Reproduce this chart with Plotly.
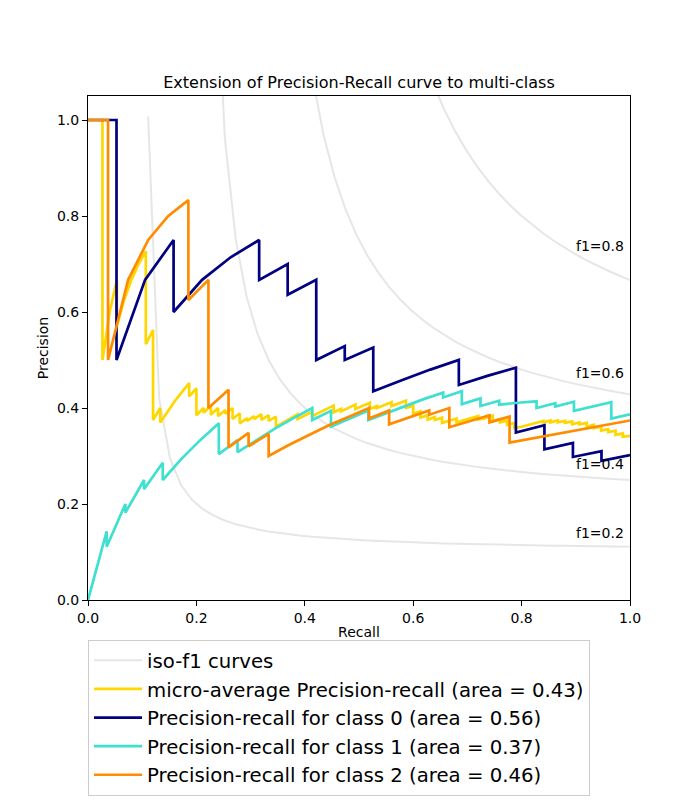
import numpy as np
import plotly.graph_objects as go

# ---- data ----
f_scores = [0.2, 0.4, 0.6, 0.8]

rec_micro = [0, 0.0267, 0.0267, 0.04, 0.0533, 0.0533, 0.0667, 0.08, 0.0933, 0.1067, 0.1067, 0.12, 0.12, 0.1333, 0.1333, 0.1467, 0.16, 0.1733, 0.1867, 0.1867, 0.2, 0.2,
             0.2133, 0.2133, 0.2267, 0.2267, 0.24, 0.24, 0.2533, 0.2533, 0.2667, 0.2667, 0.28, 0.28, 0.2933, 0.2933, 0.3067, 0.3067, 0.32, 0.32, 0.3333, 0.3333, 0.3467, 0.3467,
             0.36, 0.3733, 0.3867, 0.3867, 0.4, 0.4133, 0.4133, 0.4267, 0.44, 0.4533, 0.4533, 0.4667, 0.4667, 0.48, 0.4933, 0.4933, 0.5067, 0.52, 0.52, 0.5333, 0.5333, 0.5467, 0.56, 0.56, 0.5733, 0.5867, 0.5867,
             0.6, 0.6, 0.6133, 0.6133, 0.6267, 0.6267, 0.64, 0.64, 0.6533, 0.6533, 0.6667, 0.68, 0.68, 0.6933, 0.7067, 0.72, 0.72, 0.7333, 0.7467, 0.7467, 0.76, 0.76, 0.7733, 0.7733, 0.7867, 0.7867,
             0.8, 0.8133, 0.8267, 0.84, 0.84, 0.8533, 0.8533, 0.8667, 0.8667, 0.88, 0.88, 0.8933, 0.8933, 0.9067, 0.9067, 0.92, 0.92, 0.9333, 0.9333, 0.9467, 0.9467, 0.96, 0.96, 0.9733, 0.9733, 0.9867, 0.9867, 1.0]
prec_micro = [1.0, 1.0, 0.5, 0.6, 0.667, 0.571, 0.625, 0.667, 0.7, 0.727, 0.533, 0.5625, 0.375, 0.4, 0.37, 0.393, 0.414, 0.433, 0.452, 0.424, 0.441, 0.385,
              0.4, 0.39, 0.405, 0.386, 0.4, 0.383, 0.396, 0.388, 0.4, 0.377, 0.389, 0.368, 0.379, 0.373, 0.383, 0.377, 0.387, 0.375, 0.385, 0.373, 0.382, 0.361,
              0.37, 0.378, 0.387, 0.377, 0.385, 0.392, 0.383, 0.39, 0.398, 0.405, 0.391, 0.398, 0.393, 0.4, 0.407, 0.398, 0.404, 0.411, 0.398, 0.404, 0.4, 0.406, 0.412, 0.404, 0.41, 0.415, 0.4,
              0.405, 0.388, 0.393, 0.38, 0.385, 0.376, 0.381, 0.375, 0.38, 0.369, 0.373, 0.378, 0.37, 0.374, 0.379, 0.383, 0.376, 0.379, 0.384, 0.373, 0.377, 0.37, 0.374, 0.365, 0.369, 0.358,
              0.361, 0.365, 0.369, 0.373, 0.37, 0.374, 0.37, 0.374, 0.37, 0.373, 0.369, 0.372, 0.366, 0.37, 0.366, 0.369, 0.361, 0.365, 0.358, 0.361, 0.353, 0.356, 0.35, 0.353, 0.344, 0.347, 0.34, 0.342]

rec_c0 = [0, 0.0526, 0.0526, 0.1053, 0.1579, 0.1579, 0.2105, 0.2632, 0.3158, 0.3158, 0.3684, 0.3684, 0.4211, 0.4211, 0.4737, 0.4737,
          0.5263, 0.5263, 0.5789, 0.6316, 0.6842, 0.6842, 0.7368, 0.7895, 0.7895, 0.8421, 0.8421, 0.8947, 0.8947, 0.9474, 0.9474, 1.0]
prec_c0 = [1.0, 1.0, 0.5, 0.667, 0.75, 0.6, 0.667, 0.714, 0.75, 0.667, 0.7, 0.636, 0.667, 0.5, 0.529, 0.5,
           0.526, 0.435, 0.458, 0.48, 0.5, 0.448, 0.467, 0.484, 0.349, 0.364, 0.314, 0.327, 0.298, 0.31, 0.29, 0.302]

rec_c1 = [0, 0.0345, 0.0345, 0.069, 0.069, 0.1034, 0.1034, 0.1379, 0.1379, 0.1724, 0.2069, 0.2414, 0.2414, 0.2759, 0.2759, 0.3103,
          0.3448, 0.3793, 0.4138, 0.4138, 0.4483, 0.4483, 0.4828, 0.5172, 0.5172, 0.5517, 0.5862, 0.6207, 0.6552, 0.6552, 0.6897, 0.6897,
          0.7241, 0.7241, 0.7586, 0.7586, 0.7931, 0.8276, 0.8276, 0.8621, 0.8621, 0.8966, 0.8966, 0.931, 0.9655, 0.9655, 1.0]
prec_c1 = [0, 0.143, 0.111, 0.2, 0.182, 0.25, 0.231, 0.286, 0.25, 0.294, 0.333, 0.368, 0.304, 0.333, 0.308, 0.333,
           0.357, 0.379, 0.4, 0.375, 0.394, 0.361, 0.378, 0.395, 0.375, 0.39, 0.405, 0.419, 0.432, 0.422, 0.435, 0.408,
           0.42, 0.404, 0.415, 0.407, 0.411, 0.414, 0.4, 0.41, 0.403, 0.413, 0.394, 0.403, 0.412, 0.378, 0.387]

rec_c2 = [0, 0.037, 0.037, 0.0741, 0.1111, 0.1481, 0.1852, 0.1852, 0.2222, 0.2222, 0.2593, 0.2593, 0.2963, 0.2963, 0.3333, 0.3333,
          0.3704, 0.4074, 0.4444, 0.4815, 0.5185, 0.5185, 0.5556, 0.5556, 0.5926, 0.6296, 0.6296, 0.6667, 0.6667, 0.7037, 0.7407, 0.7407,
          0.7778, 0.7778, 1.0]
prec_c2 = [1.0, 1.0, 0.5, 0.667, 0.75, 0.8, 0.833, 0.625, 0.667, 0.4, 0.438, 0.318, 0.348, 0.32, 0.346, 0.3,
           0.323, 0.344, 0.364, 0.382, 0.4, 0.378, 0.395, 0.366, 0.381, 0.395, 0.386, 0.4, 0.36, 0.373, 0.385, 0.37,
           0.382, 0.328, 0.374]

labels = ['iso-f1 curves',
          'micro-average Precision-recall (area = 0.43)',
          'Precision-recall for class 0 (area = 0.56)',
          'Precision-recall for class 1 (area = 0.37)',
          'Precision-recall for class 2 (area = 0.46)']
colors = ['rgba(128,128,128,0.2)', '#FFD700', '#000080', '#40E0D0', '#FF8C00']

FONT = 'DejaVu Sans'
fig = go.Figure()

# iso-f1 reference curves
xs = np.linspace(0.01, 1, 50)
annotations = []
for i, f in enumerate(f_scores):
    ys = f * xs / (2 * xs - f)
    m = ys >= 0
    fig.add_trace(go.Scatter(x=xs[m], y=ys[m], mode='lines',
                             line=dict(color=colors[0], width=2),
                             name=labels[0], legendgroup='iso',
                             showlegend=(i == 0), hoverinfo='skip'))
    annotations.append(dict(x=0.9, y=ys[45] + 0.02, xref='x', yref='y',
                            text='f1={0:0.1f}'.format(f), showarrow=False,
                            xanchor='left', yanchor='bottom', yshift=-6, xshift=-2,
                            font=dict(family=FONT, size=14, color='black')))

series = [(rec_micro, prec_micro), (rec_c0, prec_c0), (rec_c1, prec_c1), (rec_c2, prec_c2)]
for k, (r, p) in enumerate(series):
    fig.add_trace(go.Scatter(x=r, y=p, mode='lines',
                             line=dict(color=colors[k + 1], width=2.7),
                             name=labels[k + 1], legendgroup='g%d' % k))

axis_common = dict(showline=True, linecolor='black', linewidth=1, mirror=True,
                   ticks='outside', ticklen=5, tickwidth=1, tickcolor='black',
                   showgrid=False, zeroline=False, tickformat='.1f', dtick=0.2,
                   automargin=False,
                   tickfont=dict(family=FONT, size=14, color='black'))

fig.update_layout(
    width=700, height=800, autosize=False,
    margin=dict(l=80, r=78, t=88, b=208),
    paper_bgcolor='white', plot_bgcolor='white',
    font=dict(family=FONT, color='black'),
    title=dict(text='Extension of Precision-Recall curve to multi-class',
               x=0.5, xref='paper', xanchor='center',
               y=1 - 74 / 800, yref='container', yanchor='middle',
               font=dict(family=FONT, size=16, color='black')),
    xaxis=dict(range=[0, 1], title=dict(text='Recall', font=dict(family=FONT, size=14), standoff=4), **axis_common),
    yaxis=dict(range=[0, 1.05], title=dict(text='Precision', font=dict(family=FONT, size=14), standoff=5), **axis_common),
    legend=dict(x=0, xanchor='left', xref='paper', y=1 - 632 / 800, yanchor='top', yref='container',
                font=dict(family=FONT, size=19.7, color='black'),
                bordercolor='#cccccc', borderwidth=1, bgcolor='white',
                traceorder='grouped', tracegroupgap=0, itemwidth=48),
    annotations=annotations,
    showlegend=True,
)

fig.write_html('out.html')
